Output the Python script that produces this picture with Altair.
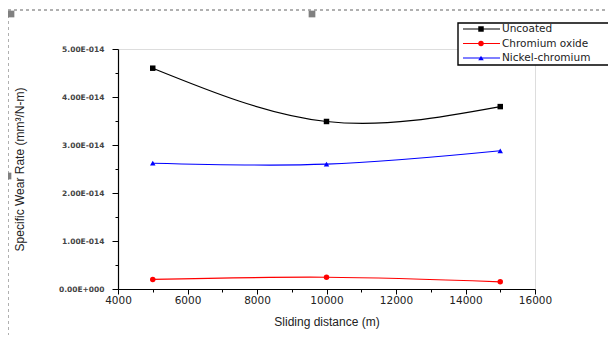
import altair as alt
import pandas as pd

series_names = ["Uncoated", "Chromium oxide", "Nickel-chromium"]
series_colors = ["#000000", "#ff0000", "#0000ff"]
marker_shapes = ["square", "circle", "triangle-up"]
distance = [5000, 10000, 15000]
uncoated = [4.60e-14, 3.49e-14, 3.80e-14]
chromium_oxide = [0.20e-14, 0.245e-14, 0.15e-14]
nickel_chromium = [2.62e-14, 2.60e-14, 2.88e-14]

rows = []
for name, vals in zip(series_names, [uncoated, chromium_oxide, nickel_chromium]):
    for d, v in zip(distance, vals):
        rows.append({"series": name, "distance": d, "rate": v})
df = pd.DataFrame(rows)
legend_df = pd.DataFrame({"series": series_names})

FONT = "DejaVu Sans"

color_scale = alt.Scale(domain=series_names, range=series_colors)
shape_scale = alt.Scale(domain=series_names, range=marker_shapes)

x_enc = alt.X(
    "distance:Q",
    scale=alt.Scale(domain=[4000, 16000], nice=False),
    axis=alt.Axis(
        title="Sliding distance (m)",
        values=list(range(4000, 16001, 1000)),
        labelExpr="datum.value % 2000 != 0 ? '' : format(datum.value, 'd')",
        tickSize={"condition": {"test": "datum.value % 2000 != 0", "value": 3}, "value": 5},
        labelPadding=1,
        labelFont=FONT,
        labelFontSize=10.5,
        labelColor="#222",
        titleFont="Liberation Sans",
        titleFontSize=12,
        titleFontWeight="normal",
        titleColor="#222",
        titleY=27,
        grid=False,
        domainColor="black",
        tickColor="black",
        domainWidth=1.2,
        tickWidth=1,
        labelFlush=False,
    ),
)
y_enc = alt.Y(
    "rate:Q",
    scale=alt.Scale(domain=[0, 5e-14], nice=False),
    axis=alt.Axis(
        title="Specific Wear Rate (mm³/N-m)",
        values=[i * 0.5e-14 for i in range(11)],
        labelExpr="abs(datum.value*1e14 - round(datum.value*1e14)) > 0.01 ? '' : (datum.value == 0 ? '0.00E+000' : format(datum.value*1e14, '.2f') + 'E-014')",
        tickSize={"condition": {"test": "abs(datum.value*1e14 - round(datum.value*1e14)) > 0.01", "value": 3}, "value": 6},
        labelPadding=8,
        labelFont=FONT,
        labelFontSize=7.5,
        labelFontWeight="bold",
        labelColor="#444",
        titleFont="Liberation Sans",
        titleFontSize=12,
        titleFontWeight="normal",
        titleColor="#222",
        titleX=-92,
        titleY=120,
        grid=False,
        domainColor="black",
        tickColor="black",
        domainWidth=1.2,
        tickWidth=1,
        labelFlush=False,
    ),
)

base = alt.Chart(df)

lines = base.mark_line(interpolate="natural", strokeWidth=1.2).encode(
    x=x_enc,
    y=y_enc,
    color=alt.Color("series:N", scale=color_scale, legend=None),
)

points = base.mark_point(filled=True, size=30, opacity=1).encode(
    x=x_enc,
    y=y_enc,
    color=alt.Color("series:N", scale=color_scale, legend=None),
    shape=alt.Shape("series:N", scale=shape_scale, legend=None),
)

# ---- legend (Origin-style box, one row per series name) ----
one = alt.Data(values=[{}])
legend_parts = [
    alt.Chart(one).mark_rect(fill="white", stroke="black", strokeWidth=1.4).encode(
        x=alt.value(340), x2=alt.value(520), y=alt.value(-26), y2=alt.value(16)
    )
]
row_y = [-20, -5.5, 9]
for name, ry in zip(series_names, row_y):
    row = alt.Chart(legend_df).transform_filter(alt.datum.series == name)
    legend_parts.append(
        row.mark_rect().encode(
            x=alt.value(345), x2=alt.value(382), y=alt.value(ry - 0.6), y2=alt.value(ry + 0.6),
            color=alt.Color("series:N", scale=color_scale, legend=None),
        )
    )
    legend_parts.append(
        row.mark_point(filled=True, size=30, opacity=1).encode(
            x=alt.value(363), y=alt.value(ry),
            color=alt.Color("series:N", scale=color_scale, legend=None),
            shape=alt.Shape("series:N", scale=shape_scale, legend=None),
        )
    )
    legend_parts.append(
        row.mark_text(align="left", baseline="middle", font=FONT, fontSize=10.5, color="#222").encode(
            x=alt.value(384), y=alt.value(ry), text="series:N"
        )
    )

# ---- Origin graph-page frame (dashed box; right and bottom edges lie off-page) ----
frame = alt.Chart(one).mark_rect(
    fill=None, fillOpacity=0, stroke="#b0b0b0", strokeDash=[3, 3], strokeWidth=2
).encode(x=alt.value(-110), x2=alt.value(700), y=alt.value(-39), y2=alt.value(400))
handles = []
for hx, hy in [(-107, -35), (194, -35), (-110, 127)]:
    handles.append(
        alt.Chart(one).mark_square(color="#808080", size=45, opacity=1).encode(
            x=alt.value(hx), y=alt.value(hy)
        )
    )

chart = alt.layer(
    frame, *handles, lines, points, *legend_parts
).properties(
    width=417,
    height=240,
    autosize=alt.AutoSizeParams(type="none"),
    padding={"left": 110, "top": 41, "right": 73, "bottom": 46},
).configure_view(strokeWidth=0, stroke="transparent").configure_axis(grid=False).configure(
    background="white"
)

chart.save("out.html", embed_options={"renderer": "svg", "actions": False})
